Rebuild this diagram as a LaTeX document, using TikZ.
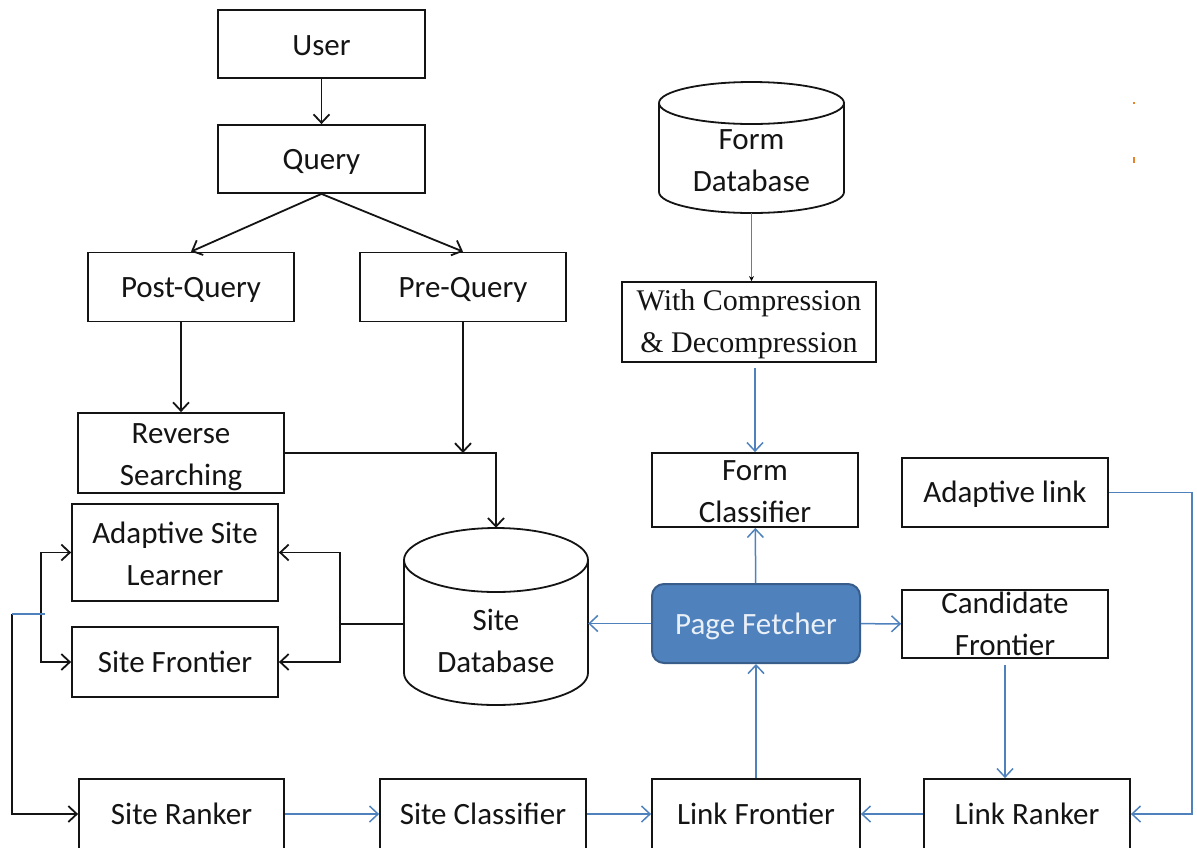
\documentclass[tikz,border=0pt]{standalone}
\usepackage{fontspec}
\setmainfont{Carlito}
\newfontfamily\serifbody{Liberation Serif}
\usetikzlibrary{arrows.meta,calc}
\definecolor{linkblue}{RGB}{79,129,189}
\definecolor{fetchfill}{RGB}{79,129,189}
\definecolor{fetchedge}{RGB}{56,93,138}
\definecolor{ink}{RGB}{20,20,20}
\definecolor{speck}{RGB}{230,130,40}

\begin{document}
\begin{tikzpicture}[x=1pt,y=-1pt,
  font=\fontsize{31}{42}\selectfont,
  tipbarb/.tip={Straight Barb[length=8.5pt,width=16pt]},
  box/.style={draw=ink, line width=1.8pt, inner sep=0pt, align=center, text=ink},
  txt/.style={align=center, text=ink, inner sep=0pt},
  dbbox/.style={inner sep=0pt, draw=none},
  plain/.style={draw=ink, line width=1.8pt},
  flow/.style={plain, -tipbarb},
  bline/.style={draw=linkblue, line width=1.5pt},
  bflow/.style={bline, -tipbarb},
  fetch/.style={draw=fetchedge, fill=fetchfill, line width=2pt, rounded corners=12pt,
    inner sep=0pt}
]
\useasboundingbox (0,0) rectangle (1197,847);
\clip (0,0) rectangle (1197,847);

% ---------- query side ----------
\node[box, minimum width=207pt, minimum height=68pt,
  label={[txt, yshift=-2pt]center:{User}}] (user) at (321.5,44) {};
\node[box, minimum width=207pt, minimum height=68pt,
  label={[txt, yshift=-3pt]center:{Query}}] (query) at (321.5,159) {};
\node[box, minimum width=206pt, minimum height=69pt,
  label={[txt, yshift=-3pt]center:{Post-Query}}] (postq) at (191,287) {};
\node[box, minimum width=206pt, minimum height=69pt,
  label={[txt, yshift=-3pt]center:{Pre-Query}}] (preq) at (463,287) {};
\node[box, minimum width=206pt, minimum height=80pt,
  label={[txt, yshift=-4pt]center:{Reverse\\Searching}}] (revs) at (181,453) {};
\node[box, minimum width=206pt, minimum height=97pt,
  label={[txt, yshift=-1pt]center:{Adaptive Site\\Learner}}] (asl) at (175,552.5) {};
\node[box, minimum width=206pt, minimum height=70pt,
  label={[txt]center:{Site Frontier}}] (sf) at (175,662) {};

% ---------- site database drum ----------
\node[dbbox, minimum width=184pt, minimum height=177pt] (sitedb) at (496,616.5) {};
\draw[plain, fill=white] (404,560) -- (404,673)
  arc[start angle=180, end angle=0, x radius=92, y radius=32] -- (588,560);
\draw[plain] (496,560) ellipse [x radius=92, y radius=32];
\node[txt] (sitedbtext) at (496,641) {Site\\Database};

% ---------- form database drum ----------
\node[dbbox, minimum width=185pt, minimum height=131pt] (formdb) at (751.5,147.5) {};
\draw[plain, fill=white] (659,103) -- (659,192)
  arc[start angle=180, end angle=0, x radius=92.5, y radius=21] -- (844,103);
\draw[plain] (751.5,103) ellipse [x radius=92.5, y radius=21];
\node[txt] (formdbtext) at (751.5,161) {Form\\Database};

% ---------- crawler side ----------
\node[box, minimum width=254pt, minimum height=80pt,
  label={[txt, yshift=-2pt, font=\serifbody\fontsize{30}{42}\selectfont]center:{With Compression\\\& Decompression}}]
  (wc) at (749,322) {};
\node[box, minimum width=206pt, minimum height=74pt,
  label={[txt, yshift=-2pt]center:{Form\\Classifier}}] (fc) at (755,490) {};
\node[box, minimum width=206pt, minimum height=69pt,
  label={[txt, yshift=-2pt]center:{Adaptive link}}] (al) at (1005,492.5) {};
\node[fetch, minimum width=208pt, minimum height=79pt,
  label={[txt, yshift=-3pt, text=white!88!fetchfill]center:{Page Fetcher}}] (pf) at (756,623.5) {};
\node[box, minimum width=206pt, minimum height=68pt,
  label={[txt]center:{Candidate\\Frontier}}] (cf) at (1005,624) {};

% ---------- bottom row ----------
\node[box, minimum width=205pt, minimum height=70pt,
  label={[txt]center:{Site Ranker}}] (sr) at (181.5,814) {};
\node[box, minimum width=206pt, minimum height=70pt,
  label={[txt]center:{Site Classifier}}] (sc) at (483,814) {};
\node[box, minimum width=208pt, minimum height=70pt,
  label={[txt]center:{Link Frontier}}] (lf) at (756,814) {};
\node[box, minimum width=206pt, minimum height=70pt,
  label={[txt]center:{Link Ranker}}] (lr) at (1027,814) {};

% ---------- black connectors ----------
\draw[flow] (user) -- (query);
\draw[flow] (query.south) -- (postq.north);
\draw[flow] (query.south) -- (preq.north);
\draw[flow] (postq.south -| revs.north) -- (revs.north);
\draw[flow] (preq.south) -- (preq.south |- revs.east);
\draw[flow] (revs.east) -| (sitedb.north);

\coordinate (jdb) at (340,624);
\draw[plain] (sitedb.west |- jdb) -- (jdb);
\draw[flow] (jdb) |- (asl.east);
\draw[flow] (jdb) |- (sf.east);

\coordinate (jl) at (41,614);
\coordinate (jb) at (12,614);
\draw[flow] (jl) |- (asl.west);
\draw[flow] (jl) |- (sf.west);
\draw[flow] (jb) |- (sr.west);
\draw[bline] (jb) -- ($(jl)+(4,0)$);

% ---------- blue connectors ----------
\draw[bline, -{Stealth[length=5pt,width=5pt,color=black]}] (formdb.south) -- (formdb.south |- wc.north);
\draw[bflow] ($(fc.north |- wc.south)+(0,5)$) -- (fc.north);
\draw[bflow] (pf) -- (fc);
\draw[bflow] (pf.west) -- (pf.west -| sitedb.east);
\draw[bflow] (pf) -- (cf);
\draw[bflow] (lf) -- (pf);
\draw[bflow] ($(cf.south)+(0,6)$) -- (cf.south |- lr.north);
\coordinate (ar) at (1192,492.5);
\draw[bflow] (al.east) -- (ar) |- (lr.east);
\draw[bflow] (sr) -- (sc);
\draw[bflow] (sc) -- (lf);
\draw[bflow] (lr) -- (lf);

% stray specks at the right margin
\fill[speck] (1133,102) rectangle (1135,104);
\fill[speck] (1133,157) rectangle (1135,163);
\end{tikzpicture}
\end{document}
